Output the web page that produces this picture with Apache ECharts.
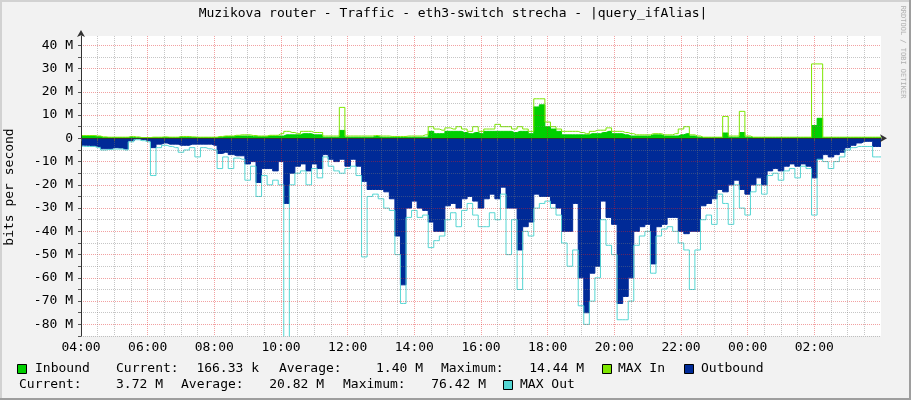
<!DOCTYPE html>
<html><head><meta charset="utf-8">
<script src="https://cdn.jsdelivr.net/npm/echarts@6/dist/echarts.min.js"></script>
<style>html,body{margin:0;padding:0;background:#F2F2F2;overflow:hidden}#c{width:911px;height:400px}</style>
</head><body><div id="c"></div><script>
// time step between samples, minutes (start 04:00)
const STEP_MIN = 10;
const timeLabels = ['04:00','06:00','08:00','10:00','12:00','14:00','16:00','18:00','20:00','22:00','00:00','02:00'];

// values in M bits/s
const inAvg = [1,1,1,0.8, 0.4,0.3,0.3,0.3,0.3, 0.3,0.3,0.2,0.2,
 0.3,0.3,0.4,0.3,0.3,0.5,0.5,0.4,0.3,0.3,0.3,0.3,
 0.5,0.8,0.8,1,1,1,0.7,0.7,0.7,1,1,
 1,1.5,1.5,1.5,2,2,1.5,1.5,0.5,0.5,0.5,
 3.4,
 0.5,0.5,0.5,0.5,0.5,0.8,0.5,0.5,0.4,0.4,0.4,0.5,0.5,0.5,0.5,
 3,2,2,3,3,3,2.5,2,2.5,2,3,3,3,3,3,2.5,3,3,2,
 13.5,14.4,5,4,3,
 1.5,1.5,1.5,1.5,1.5,2,2,2.5,3,2,2,1.5,1,1,1,1,1.5,1.5,1,1,1,
 1.5,2,1,0.5,
 0.3,0.3,0.3,0.3,
 2.3,0.5,0.5,2.5,0.5,
 0.3,0.3,0.3,0.3,0.3,0.3,0.3,0.3,0.3,0.3,0.3,
 5.5,8.6,
 0.3,0.3,0.3,0.3,0.3,0.3,0.3,0.3,0.3,0.3,0.3];

const inMax = [1.2,1.2,1.2,1, 0.6,0.5,0.5,0.5,0.5, 0.8,0.6,0.3,0.3,
 0.5,0.5,0.6,0.5,0.5,0.8,0.8,0.6,0.5,0.5,0.5,0.5,
 0.8,1,1,1.3,1.5,1.5,1.2,1,1,1.3,1.3,
 2,3,2.5,2,3,3,2.5,2.5,1,1,1,
 13.3,
 1,1,1,1,1,1.2,1,1,0.8,0.8,0.8,1,1,1,1.5,
 5,4,3.5,4.5,4,5,4,3,5,3,4,4,6,5,5,4,5,4,3,
 17,17,7,5,4,
 3,3,3,2.5,2,3,3.5,3.5,4.5,3,3,2.5,2,1.5,1.5,1.5,2,2,1.5,1.5,2,
 4,5,1.5,1,
 0.5,0.5,0.5,0.5,
 9.4,1,1,11.6,1,
 0.5,0.5,0.5,0.5,0.5,0.5,0.5,0.5,0.5,0.5,0.5,
 32,32,
 0.5,0.5,0.5,0.5,0.5,0.5,0.5,0.5,0.5,0.5,0.5];

const outAvg = [-3,-3,-3.2,-3.5,-4.5,-4.5,-4,-4.2,-4.6,
 -1,-0.2,-0.5,-1,
 -4,-2.5,-2,-2.5,-2.5,-3,-3,-2.5,-2.5,-2.5,-2.5,-3,
 -6.5,-6,-7,-7.5,-7.5,-11,-10,-19,-13,-13,-14,
 -10,-28,-15,-12,-11,-14,-11,-13,-7,-9,-10,-9,
 -12,-9,-12,-18.5,-22,-22,-22,-23,-26,-42,-63,-30,-27,-30,-31,
 -36,-40,-40,-29,-28,-30,-26,-25,-27,-30,-26,-24,-26,-21,-30,-30,-48,-38,-36,
 -24,-25,-25,-28,-30,-40,-40,-28,-60,-75,-58,-55,-27,-34,-37,-71,-68,-60,-40,-38,-37,-54,-38,-37,-34,-34,
 -40,-41,-40,-40,-29,-28,-26,-22,-23,-20,-18,-22,-24,-20,-17,-20,-14,-13,-14,-12,-11,-12,-11,-12,
 -17,-9,-7,-8,-7,-6,-4,-3,-2,-1.3,-1.3,-3.5,-3.5];

const outMax = [-3.4,-3.5,-3.5,-4,-5,-4.8,-4.6,-4.6,-5,
 -1.5,-0.6,-1,-1.5,
 -16,-4,-3,-3.5,-4,-6,-5,-4,-8,-4,-4.5,-5,
 -13,-8,-13,-8.5,-9,-18,-12,-25,-16,-20,-18,
 -20,-88,-20,-15,-14,-20,-13,-17,-8,-12,-14,-15,
 -13,-12,-16,-51,-25,-24,-26,-30,-31,-50,-71,-34,-31,-34,-33,
 -47,-44,-42,-35,-32,-38,-31,-28,-33,-38,-38,-32,-35,-24,-50,-35,-65,-40,-42,
 -30,-28,-27,-30,-33,-45,-55,-48,-72,-80,-70,-60,-35,-46,-50,-78,-78,-70,-46,-42,-40,-58,-42,-39,-38,-40,
 -45,-48,-65,-48,-35,-33,-37,-24,-28,-37,-20,-30,-33,-23,-20,-24,-16,-15,-18,-14,-13,-17,-12,-13,
 -33,-9,-10,-13,-10,-8,-5,-4,-3.5,-3.5,-3.5,-8,-8];

const FONT = '"DejaVu Sans Mono", monospace';
const pairs = arr => arr.map((v, i) => [i * STEP_MIN, v]);

const chart = echarts.init(document.getElementById('c'), null, {renderer: 'canvas'});

const T = (x, y, s, extra) => Object.assign({type: 'text', x: x, y: y,
  style: Object.assign({text: s, font: '13px ' + FONT, fill: '#000', verticalAlign: 'middle'}, extra || {})});
const SQ = (x, y, c) => ({type: 'rect', shape: {x: x, y: y, width: 9, height: 9},
  style: {fill: c, stroke: '#000', lineWidth: 1}});

const major = 'rgba(225,30,30,0.42)';
const minor = 'rgba(120,120,120,0.42)';

chart.setOption({
  animation: false,
  backgroundColor: '#F2F2F2',
  grid: {left: 81, right: 30, top: 36, bottom: 64, show: true, backgroundColor: '#FFFFFF', borderWidth: 0},
  xAxis: {
    type: 'value', min: 0, max: 1440, interval: 30, z: 10,
    axisLine: {show: true, lineStyle: {color: '#333', width: 1}, symbol: ['none', 'arrow'], symbolSize: [6, 7], symbolOffset: [0, 6]},
    axisTick: {show: true, length: 3, lineStyle: {color: '#555'}},
    axisLabel: {margin: 5, color: '#000', fontFamily: '"DejaVu Sans Mono", monospace', fontSize: 13,
      showMaxLabel: false,
      formatter: v => (v % 120 === 0 && v < 1440) ? timeLabels[v / 120] : ''},
    splitLine: {show: true, showMaxLine: false, lineStyle: {color: [major, minor, minor, minor], type: [1, 1], width: 1}}
  },
  yAxis: {
    type: 'value', min: -85, max: 44, interval: 5, z: 10,
    axisLine: {show: true, onZero: false, lineStyle: {color: '#333', width: 1}, symbol: ['none', 'arrow'], symbolSize: [6, 7], symbolOffset: [0, 6]},
    axisTick: {show: true, length: 3, lineStyle: {color: '#555'}},
    axisLabel: {margin: 8, color: '#000', fontFamily: '"DejaVu Sans Mono", monospace', fontSize: 13,
      showMaxLabel: false,
      formatter: v => (Math.round(v) % 10 === 0 && v <= 40) ? (v === 0 ? '0' : v + ' M') : ''},
    splitLine: {show: true, showMaxLine: false, lineStyle: {color: [minor, major], type: [1, 1], width: 1}}
  },
  series: [
    {type: 'line', name: 'Inbound', data: pairs(inAvg), step: 'middle', symbol: 'none', z: 2,
     lineStyle: {width: 1, color: '#00CF00'}, areaStyle: {color: '#00CF00', opacity: 1}},
    {type: 'line', name: 'MAX In', data: pairs(inMax), step: 'middle', symbol: 'none', z: 3,
     lineStyle: {width: 1, color: '#7EE600'}},
    {type: 'line', name: 'Outbound', data: pairs(outAvg), step: 'middle', symbol: 'none', z: 2,
     lineStyle: {width: 1, color: '#002A97'}, areaStyle: {color: '#002A97', opacity: 1}},
    {type: 'line', name: 'MAX Out', data: pairs(outMax), step: 'middle', symbol: 'none', z: 3,
     lineStyle: {width: 1, color: '#55D6D3'}}
  ],
  graphic: [
    {type: 'rect', shape: {x: 0, y: 0, width: 911, height: 2}, style: {fill: '#D2D2D2'}, z: 100},
    {type: 'rect', shape: {x: 0, y: 0, width: 2, height: 400}, style: {fill: '#D2D2D2'}, z: 100},
    {type: 'rect', shape: {x: 909, y: 0, width: 2, height: 400}, style: {fill: '#9E9E9E'}, z: 100},
    {type: 'rect', shape: {x: 0, y: 398, width: 911, height: 2}, style: {fill: '#9E9E9E'}, z: 100},
    T(453, 14, 'Muzikova router - Traffic - eth3-switch strecha - |query_ifAlias|', {align: 'center'}),
    {type: 'text', x: 10, y: 187, rotation: Math.PI / 2,
     style: {text: 'bits per second', font: '13px ' + FONT, fill: '#000', align: 'center', verticalAlign: 'middle'}},
    {type: 'text', x: 903, y: 52, rotation: -Math.PI / 2,
     style: {text: 'RRDTOOL / TOBI OETIKER', font: '7px ' + FONT, fill: '#B0B0B0', align: 'center', verticalAlign: 'middle'}},
    SQ(17.5, 364.5, '#00CF00'), T(35, 369, 'Inbound'),
    T(116, 369, 'Current:'), T(259, 369, '166.33 k', {align: 'right'}),
    T(279, 369, 'Average:'), T(423, 369, '1.40 M', {align: 'right'}),
    T(441, 369, 'Maximum:'), T(584, 369, '14.44 M', {align: 'right'}),
    SQ(602.5, 364.5, '#7EE600'), T(618, 369, 'MAX In'),
    SQ(684.5, 364.5, '#002A97'), T(701, 369, 'Outbound'),
    T(19, 385, 'Current:'), T(163, 385, '3.72 M', {align: 'right'}),
    T(181, 385, 'Average:'), T(324, 385, '20.82 M', {align: 'right'}),
    T(343, 385, 'Maximum:'), T(486, 385, '76.42 M', {align: 'right'}),
    SQ(503.5, 380.5, '#55D6D3'), T(520, 385, 'MAX Out')
  ]
});
</script></body></html>
